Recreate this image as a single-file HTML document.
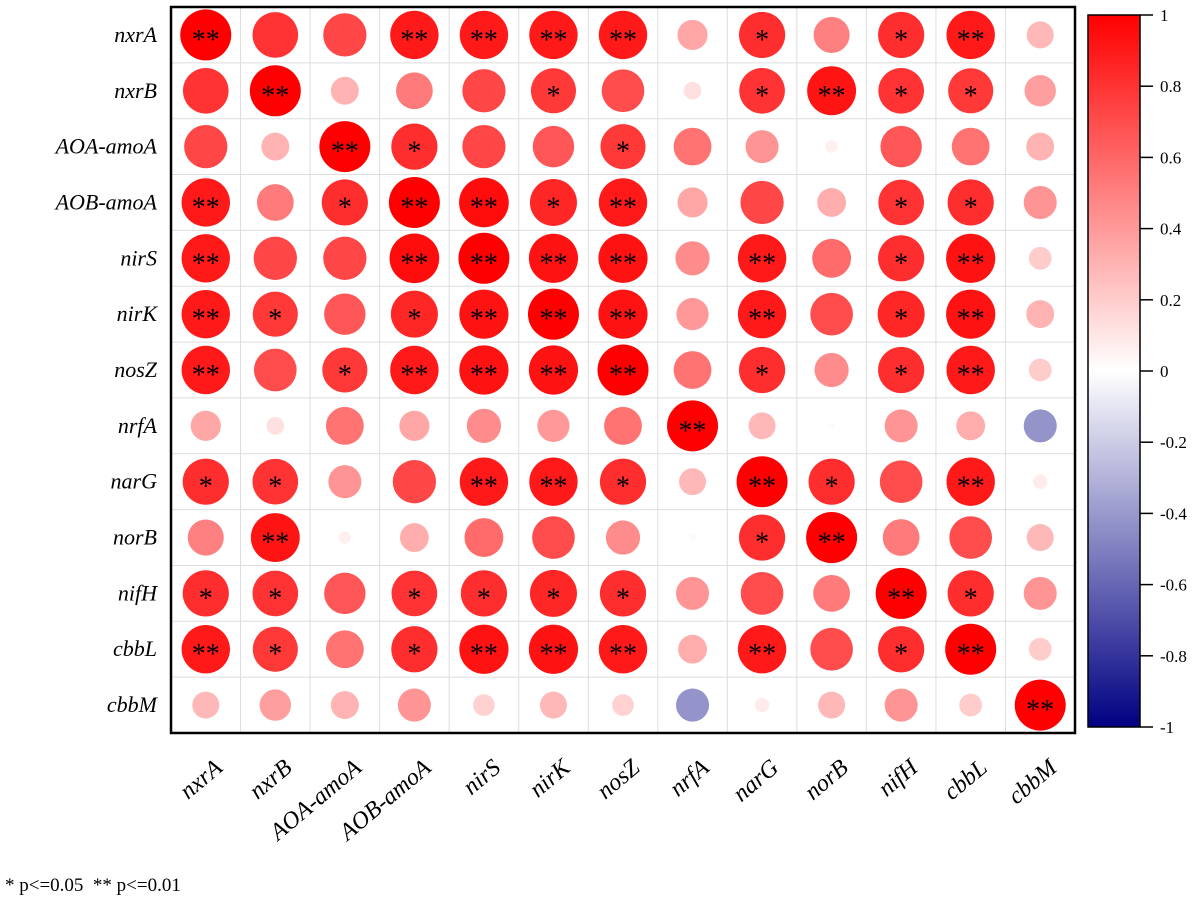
<!DOCTYPE html>
<html><head><meta charset="utf-8"><style>
body{margin:0;background:#fff;}
svg text{font-family:"Liberation Serif",serif;}
</style></head><body>
<svg id="chart" width="1201" height="901" xmlns="http://www.w3.org/2000/svg"></svg>
<script>
const genes=["nxrA","nxrB","AOA-amoA","AOB-amoA","nirS","nirK","nosZ","nrfA","narG","norB","nifH","cbbL","cbbM"];
const corr=[
[1,.8,.72,.9,.9,.9,.9,.35,.82,.5,.82,.9,.28],
[.8,1,.3,.52,.72,.78,.7,.12,.8,.92,.8,.78,.38],
[.72,.3,1,.82,.72,.66,.78,.55,.42,.06,.66,.55,.3],
[.9,.52,.82,1,.95,.85,.9,.35,.72,.32,.8,.82,.42],
[.9,.72,.72,.95,1,.93,.93,.45,.9,.58,.82,.93,.2],
[.9,.78,.66,.85,.93,1,.93,.4,.9,.7,.85,.93,.3],
[.9,.7,.78,.9,.93,.93,1,.55,.82,.45,.82,.9,.2],
[.35,.12,.55,.35,.45,.4,.55,1,.28,.02,.42,.32,-.42],
[.82,.8,.42,.72,.9,.9,.82,.28,1,.82,.7,.9,.08],
[.5,.92,.06,.32,.58,.7,.45,.02,.82,1,.52,.7,.28],
[.82,.8,.66,.8,.82,.85,.82,.42,.7,.52,1,.82,.42],
[.9,.78,.55,.82,.93,.93,.9,.32,.9,.7,.82,1,.2],
[.28,.38,.3,.42,.18,.28,.18,-.42,.08,.28,.42,.2,1]];
const sig=[
["**","","","**","**","**","**","","*","","*","**",""],
["","**","","","","*","","","*","**","*","*",""],
["","","**","*","","","*","","","","","",""],
["**","","*","**","**","*","**","","","","*","*",""],
["**","","","**","**","**","**","","**","","*","**",""],
["**","*","","*","**","**","**","","**","","*","**",""],
["**","","*","**","**","**","**","","*","","*","**",""],
["","","","","","","","**","","","","",""],
["*","*","","","**","**","*","","**","*","","**",""],
["","**","","","","","","","*","**","","",""],
["*","*","","*","*","*","*","","","","**","*",""],
["**","*","","*","**","**","**","","**","","*","**",""],
["","","","","","","","","","","","","**"]];
const cbTicks=[1,0.8,0.6,0.4,0.2,0,-0.2,-0.4,-0.6,-0.8,-1];
const NS="http://www.w3.org/2000/svg",svg=document.getElementById("chart");
const L=171,T=7,R=1075,B=733,n=genes.length,cw=(R-L)/n,ch=(B-T)/n;
const cx=i=>L+cw*(i+.5), cy=j=>T+ch*(j+.5);
function col(v){
 if(v>=0){const t=1-v;return `rgb(255,${Math.round(255*t)},${Math.round(255*t)})`;}
 const a=-v;return `rgb(${Math.round(255*(1-a))},${Math.round(255*(1-a))},${Math.round(255-125*a)})`;}
function el(tag,at,par){const e=document.createElementNS(NS,tag);for(const k in at)e.setAttribute(k,at[k]);(par||svg).appendChild(e);return e;}
for(let i=0;i<=n;i++){
 const g1=el("line",{x1:L+cw*i,x2:L+cw*i,y1:T,y2:B,stroke:"#ddd"});
 
 
 const g2=el("line",{x1:L,x2:R,y1:T+ch*i,y2:T+ch*i,stroke:"#ddd"});
 
 
}
for(let j=0;j<n;j++)for(let i=0;i<n;i++){
 const v=corr[j][i],r=Math.sqrt(Math.abs(v))*25.5;
 const c=el("circle",{cx:cx(i),cy:cy(j),r:r,fill:col(v)});
 
 
 if(sig[j][i]){const t=el("text",{x:cx(i),y:cy(j)+14,"text-anchor":"middle","font-size":28,fill:"#000"});t.textContent=sig[j][i];
 
 }
}
const bd=el("rect",{x:L,y:T,width:R-L,height:B-T,fill:"none",stroke:"#000","stroke-width":2.5});


genes.forEach((g,j)=>{
 const t=el("text",{x:157,y:cy(j)+7,"text-anchor":"end","font-size":22,"font-style":"italic"});t.textContent=g;
 
 
 const x=cx(j)+18,y=770;
 const u=el("text",{x:x,y:y,"text-anchor":"end","font-size":24,"font-style":"italic",transform:`rotate(-40 ${x} ${y})`});u.textContent=g;
 
 
});
const cbX=1088,cbW=52,cbT=15,cbB=727;
const defs=el("defs",{}),gr=el("linearGradient",{id:"cbg",x1:0,y1:0,x2:0,y2:1},defs);
for(let k=0;k<=20;k++){const v=1-k/10;el("stop",{offset:k/20,"stop-color":col(v)},gr);}
const cb=el("rect",{x:cbX,y:cbT,width:cbW,height:cbB-cbT,fill:"url(#cbg)",stroke:"#000","stroke-width":1.5});


const cby=v=>cbT+(1-v)/2*(cbB-cbT);
cbTicks.forEach(v=>{
 el("line",{x1:cbX+cbW,x2:cbX+cbW+13,y1:cby(v),y2:cby(v),stroke:"#000","stroke-width":1.5});
 const t=el("text",{x:1160,y:cby(v)+6,"font-size":17});t.textContent=String(v);
 
 
});
const f=el("text",{x:5,y:891,"font-size":19});f.textContent="* p<=0.05  ** p<=0.01";
f.setAttribute("xml:space","preserve");f.style.whiteSpace="pre";


</script>
</body></html>
